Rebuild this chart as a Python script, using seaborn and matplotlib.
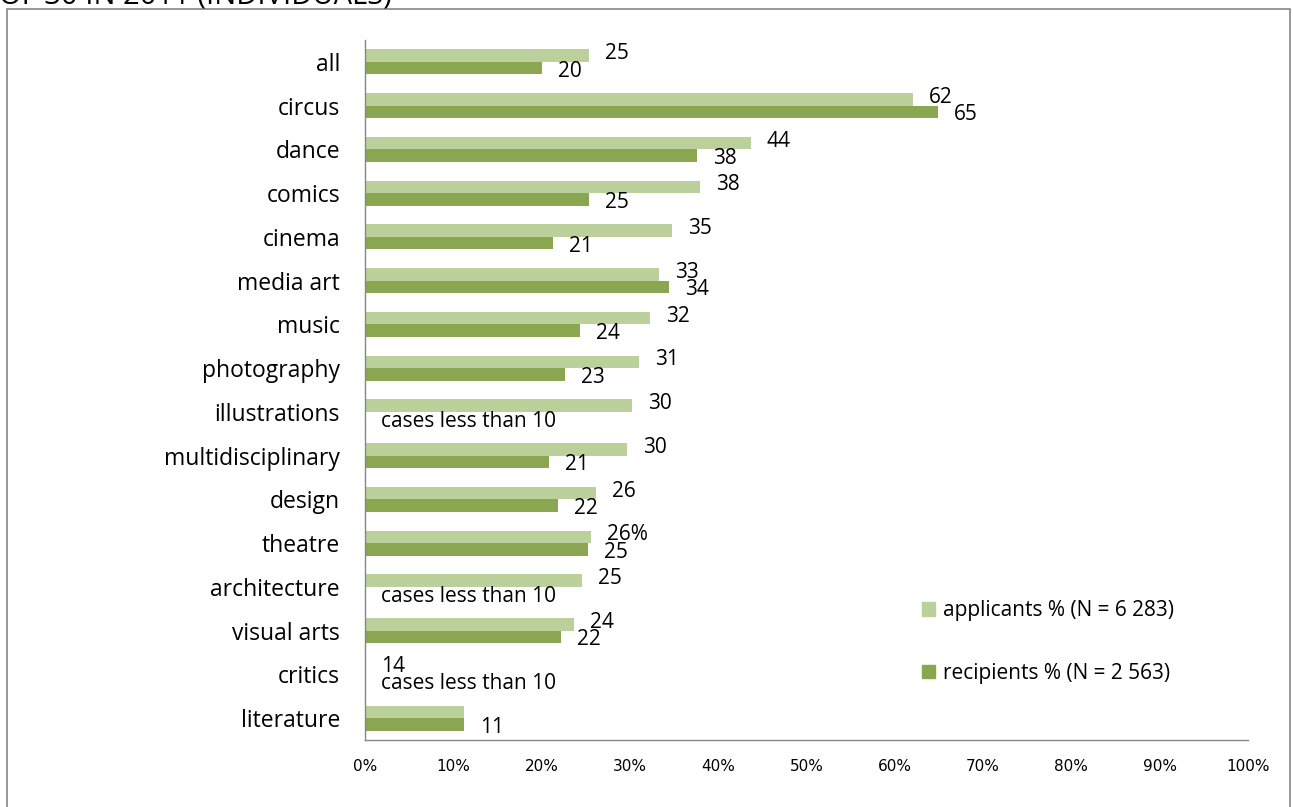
import matplotlib.pyplot as plt
import matplotlib.patches as mpatches
import numpy as np
import pandas as pd
import seaborn as sns

# Data
categories = ["all", "circus", "dance", "comics", "cinema", "media art", "music",
              "photography", "illustrations", "multidisciplinary", "design", "theatre",
              "architecture", "visual arts", "critics", "literature"]
applicants = [25.4, 62.1, 43.7, 37.9, 34.8, 33.3, 32.3, 31.0, 30.2, 29.7, 26.2, 25.6,
              24.6, 23.7, np.nan, 11.2]
recipients = [20.0, 64.9, 37.6, 25.4, 21.3, 34.4, 24.3, 22.6, np.nan, 20.8, 21.9, 25.3,
              np.nan, 22.2, np.nan, 11.2]
applicant_labels = ["25", "62", "44", "38", "35", "33", "32", "31", "30", "30", "26", "26%",
                    "25", "24", "14", ""]
recipient_labels = ["20", "65", "38", "25", "21", "34", "24", "23", "cases less than 10",
                    "21", "22", "25", "cases less than 10", "22", "cases less than 10", "11"]
series_names = ["applicants % (N = 6 283)", "recipients % (N = 2 563)"]
colors = ["#BBD09B", "#8BA650"]
xticks = list(range(0, 101, 10))

df = pd.DataFrame({
    "category": categories * 2,
    "value": applicants + recipients,
    "series": [series_names[0]] * len(categories) + [series_names[1]] * len(categories),
})

sns.set_style("white")
plt.rcParams["font.family"] = ["Open Sans", "DejaVu Sans"]
plt.rcParams["text.color"] = "black"
plt.rcParams["xtick.color"] = "black"
plt.rcParams["ytick.color"] = "black"

fig = plt.figure(figsize=(12.93, 8.07), dpi=100)
ax = fig.add_axes([365 / 1293, 1 - 740 / 807, 883 / 1293, 700 / 807])

sns.barplot(data=df, y="category", x="value", hue="series", hue_order=series_names,
            order=categories, palette=colors, orient="h", width=0.57, gap=0,
            saturation=1, errorbar=None, ax=ax, edgecolor="none")

ax.set_xlim(0, 100)
ax.set_ylim(len(categories) - 0.5, -0.5)
ax.set_xlabel("")
ax.set_ylabel("")
ax.set_xticks(xticks)
ax.set_xticklabels([f"{t}%" for t in xticks], family=["Liberation Sans Narrow", "DejaVu Sans"],
                   fontsize=11)
ax.tick_params(axis="x", direction="out", length=5, color="#868686", pad=9)
ax.tick_params(axis="y", which="major", length=0, labelsize=16.5, pad=18)
ax.set_yticks(np.arange(-0.5, len(categories), 1), minor=True)
ax.tick_params(axis="y", which="minor", direction="out", length=5, color="#868686")
for side in ["top", "right"]:
    ax.spines[side].set_visible(False)
for side in ["left", "bottom"]:
    ax.spines[side].set_color("#868686")
    ax.spines[side].set_linewidth(1)

# value labels
bh = 0.57 / 2
for i in range(len(categories)):
    a = applicants[i]
    r = recipients[i]
    ax_ = 0 if np.isnan(a) else a
    rx_ = 0 if np.isnan(r) else r
    if applicant_labels[i]:
        ax.annotate(applicant_labels[i], (ax_, i - bh / 2), xytext=(16, 2),
                    textcoords="offset pixels", ha="left", va="center", fontsize=15)
    if recipient_labels[i]:
        ax.annotate(recipient_labels[i], (rx_, i + bh / 2), xytext=(16, -3),
                    textcoords="offset pixels", ha="left", va="center", fontsize=15)

# legend
ax.get_legend().remove()
handles = [mpatches.Patch(color=c, label=n) for c, n in zip(colors, series_names)]
fig.legend(handles=handles, loc="upper left", bbox_to_anchor=(914 / 1293, 1 - 592 / 807),
           frameon=False, fontsize=15, handlelength=0.6, handleheight=0.6,
           handletextpad=0.4, labelspacing=2.0, borderaxespad=0)

# outer chart frame and clipped title
fig.add_artist(mpatches.Rectangle((7 / 1293, -0.01), 1283 / 1293, 1 - 9 / 807 + 0.01,
                                  transform=fig.transFigure, fill=False,
                                  edgecolor="#868686", linewidth=1.2))
fig.text(-0.001, 1 - 4 / 807, "OF 30 IN 2011 (INDIVIDUALS)", fontsize=21, va="baseline",
         ha="left")

fig.savefig("out.png", dpi=100)
